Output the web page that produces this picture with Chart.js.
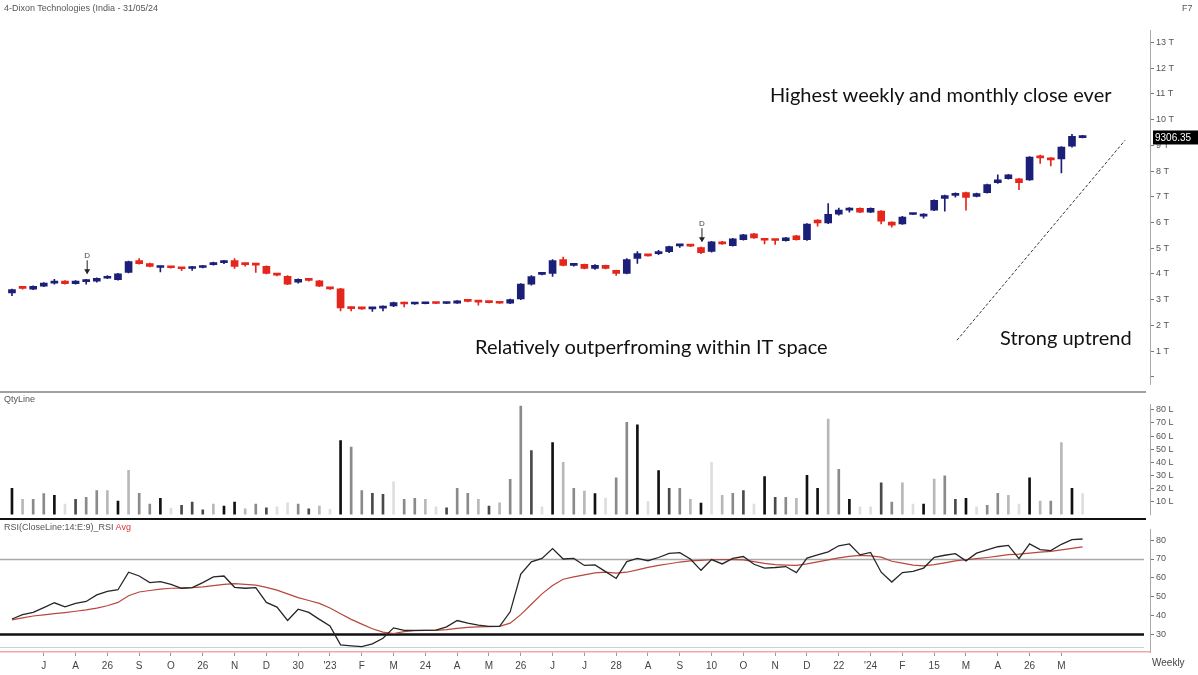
<!DOCTYPE html>
<html>
<head>
    <title>Dixon Technologies - Weekly</title>
    <style>
        body {
            margin: 0;
            background: #fff;
            font-family: "Liberation Sans", Arial, sans-serif;
        }

        #wrap {
            position: relative;
            width: 1198px;
            height: 675px;
            overflow: hidden;
        }

        .pane {
            position: absolute;
            left: 0;
        }

        .note {
            position: absolute;
            font-family: Lato, "Open Sans", sans-serif;
            font-size: 20px;
            color: #111;
            white-space: nowrap;
        }

        .tag {
            position: absolute;
            font-size: 9px;
            color: #555;
            white-space: nowrap;
        }

        .rule {
            position: absolute;
            left: 0;
            width: 1146px;
        }
    </style>
</head>
<body>
<div id="wrap">
    <canvas id="price" class="pane" style="top:0" width="1198" height="392"></canvas>
    <canvas id="vol" class="pane" style="top:392px" width="1198" height="130"></canvas>
    <canvas id="rsi" class="pane" style="top:522px" width="1198" height="153"></canvas>

    <div class="rule" style="top:391px;height:2px;background:#a0a0a0"></div>
    <div class="rule" style="top:518px;height:2px;background:#111"></div>

    <div class="tag" style="left:4px;top:3px">4-Dixon Technologies (India - 31/05/24</div>
    <div class="tag" style="left:1182px;top:3px">F7</div>
    <div class="tag" style="left:4px;top:394px">QtyLine</div>
    <div class="tag" style="left:4px;top:522px">RSI(CloseLine:14:E:9)_RSI <span style="color:#d33">Avg</span></div>
    <div class="tag" style="left:1152px;top:657px;font-size:10px;color:#444">Weekly</div>

    <div class="note" style="left:770px;top:82px">Highest weekly and monthly close ever</div>
    <div class="note" style="left:475px;top:334px">Relatively outperfroming within IT space</div>
    <div class="note" style="left:1000px;top:325px">Strong uptrend</div>
</div>

<script src="https://cdn.jsdelivr.net/npm/chart.js"></script>
<script>
    // weekly candles, Jun 2022 - May 2024
    var open = [3260, 3450, 3410, 3520, 3640, 3720, 3620, 3700, 3720, 3830,
        3780, 4060, 4520, 4400, 4250, 4270, 4230, 4210, 4250, 4360,
        4440, 4520, 4370, 4370, 4290, 3990, 3910, 3680, 3790, 3730,
        3460, 3420, 2680, 2680, 2640, 2670, 2750, 2880, 2830, 2840,
        2880, 2850, 2860, 2950, 2930, 2900, 2890, 2860, 3030, 3600,
        3980, 4020, 4560, 4330, 4370, 4210, 4330, 4140, 4020, 4600,
        4720, 4790, 4860, 5090, 5110, 5020, 4870, 5250, 5100, 5330,
        5560, 5340, 5330, 5290, 5480, 5330, 6090, 5980, 6320, 6480,
        6550, 6400, 6440, 6020, 5940, 6310, 6250, 6480, 6940, 7050,
        7160, 7010, 7160, 7550, 7700, 7700, 7660, 8580, 8510, 8470,
        8970, 9300];
    var high = [3410, 3480, 3540, 3660, 3790, 3740, 3740, 3790, 3850, 3930,
        4020, 4500, 4600, 4420, 4300, 4290, 4240, 4290, 4320, 4460,
        4530, 4600, 4380, 4380, 4310, 4000, 3930, 3810, 3800, 3750,
        3470, 3440, 2720, 2700, 2700, 2760, 2900, 2900, 2860, 2890,
        2890, 2870, 2960, 2970, 2950, 2910, 2900, 3020, 3620, 3930,
        4040, 4560, 4650, 4400, 4380, 4360, 4340, 4150, 4600, 4870,
        4730, 4920, 5080, 5150, 5120, 5040, 5270, 5270, 5380, 5540,
        5580, 5350, 5340, 5420, 5500, 5960, 6110, 6740, 6560, 6580,
        6570, 6570, 6460, 6030, 6240, 6330, 6350, 6880, 7070, 7150,
        7180, 7140, 7490, 7850, 7870, 7720, 8560, 8620, 8520, 8950,
        9430, 9390];
    var low = [3150, 3410, 3390, 3500, 3600, 3600, 3600, 3600, 3680, 3810,
        3760, 4040, 4380, 4270, 4080, 4220, 4130, 4140, 4230, 4340,
        4400, 4210, 4300, 4060, 4000, 3920, 3580, 3640, 3720, 3500,
        3400, 2560, 2560, 2620, 2540, 2560, 2730, 2720, 2810, 2830,
        2840, 2840, 2850, 2910, 2780, 2870, 2850, 2840, 3000, 3560,
        3960, 3900, 4310, 4300, 4190, 4170, 4190, 3940, 4000, 4410,
        4690, 4750, 4830, 5030, 5060, 4790, 4850, 5150, 5080, 5310,
        5380, 5170, 5150, 5270, 5310, 5300, 5860, 5950, 6280, 6400,
        6380, 6380, 5940, 5820, 5920, 6300, 6170, 6460, 6440, 6980,
        6480, 6990, 7140, 7520, 7680, 7280, 7640, 8300, 8200, 7930,
        8930, 9290];
    var close = [3390, 3440, 3520, 3640, 3720, 3620, 3720, 3720, 3830, 3900,
        4000, 4480, 4400, 4290, 4290, 4240, 4200, 4250, 4290, 4440,
        4510, 4290, 4360, 4340, 4020, 3950, 3600, 3790, 3750, 3520,
        3420, 2680, 2650, 2640, 2660, 2750, 2880, 2830, 2840, 2880,
        2850, 2860, 2950, 2930, 2900, 2880, 2860, 3000, 3600, 3900,
        4020, 4520, 4330, 4370, 4210, 4330, 4210, 4020, 4560, 4790,
        4700, 4860, 5060, 5100, 5080, 4830, 5250, 5170, 5360, 5520,
        5400, 5310, 5300, 5400, 5330, 5940, 5980, 6320, 6480, 6550,
        6400, 6550, 6050, 5900, 6210, 6320, 6320, 6860, 7050, 7130,
        6970, 7120, 7470, 7660, 7850, 7550, 8540, 8510, 8430, 8930,
        9350, 9306.35];

    // traded quantity in lakh shares
    var qty = [20, 11.7, 11.7, 16, 14.7, 8, 11.7, 13.2, 18.3, 18.3,
        10.3, 33.8, 16.2, 8, 12.5, 5, 7, 9.5, 3.7, 8,
        6.6, 9.5, 4.4, 8, 5.2, 6, 9, 8, 4.4, 6.6,
        4, 56.6, 51.5, 18.3, 16.2, 15.4, 25, 11.7, 12.5, 11.7,
        6, 5.2, 20, 16.2, 11.7, 6.6, 9, 27, 83, 49,
        6, 55, 40, 20, 18, 16, 12.7, 28, 70.5, 68.6,
        10, 33.6, 20, 20, 11.7, 8.8, 40, 14.7, 16.2, 18.3,
        8, 29, 13.2, 13.2, 12.5, 30, 20, 73, 34.6, 11.7,
        6, 6, 24.3, 9.6, 24.3, 8, 8, 27.2, 29.7, 11.7,
        12.5, 6, 7.1, 16.2, 14.7, 8, 28, 10.3, 10.3, 55,
        20, 16];
    // shade of each qty bar: 0 darkest .. 4 faintest
    var qtyShade = [0, 3, 2, 2, 0, 4, 1, 2, 2, 3,
        0, 3, 2, 2, 0, 4, 1, 1, 1, 3,
        0, 0, 3, 2, 1, 4, 4, 2, 1, 3,
        4, 0, 2, 2, 1, 1, 4, 2, 2, 3,
        4, 1, 2, 2, 3, 1, 3, 2, 2, 1,
        4, 0, 3, 2, 3, 0, 4, 2, 2, 0,
        4, 0, 1, 2, 3, 0, 4, 3, 2, 1,
        4, 0, 1, 2, 3, 0, 0, 3, 2, 0,
        4, 4, 1, 2, 3, 4, 0, 3, 2, 1,
        0, 4, 2, 2, 3, 4, 0, 3, 2, 3,
        0, 4];

    var rsi = [38.2, 40.5, 41.7, 44.2, 46.8, 44.6, 46.5, 47.5, 51, 52.8,
        53.7, 63, 61, 57.5, 58, 56.5, 54.5, 54.8, 57.5, 60.5,
        61, 55, 54.5, 54.8, 47, 44.5, 37.4, 43.4, 41.7, 38,
        34.5, 24.5, 24, 23.6, 25, 28, 33.5, 32.2, 32.2, 32.2,
        32.3, 34, 37.4, 36, 35, 34.3, 34.3, 42, 62, 68.5,
        70.3, 75.5, 70, 70.3, 66.6, 66.9, 63.3, 59.7, 68.6, 70.3,
        69.1, 70.8, 73, 73.4, 70, 64, 69.7, 67.4, 70.3, 71.3,
        67.2, 65.2, 65.5, 66, 62.8, 70.5, 72.2, 73.8, 77, 78,
        72.2, 73.5, 63, 57.8, 62.8, 63.5, 65.2, 70.9, 72, 72.8,
        69, 73.1, 74.8, 76.5, 77.2, 70.2, 78, 75, 74.5, 77.8,
        80.3, 80.6];
    var rsiAvg = [37.7, 38.8, 39.8, 40.4, 41, 41.6, 42.3, 43, 44, 45.2,
        47, 50.5, 52.5, 53.3, 54, 54.5, 54.6, 54.8, 55.2, 55.9,
        56.6, 57, 56.6, 56.2, 55, 53.5, 51.5, 49.5, 48, 46.5,
        44, 41, 38, 35.5, 33, 31.2, 30.5, 31.5, 32, 32.2,
        32.2, 32.6, 33.2, 33.8, 34, 34.2, 34.3, 36, 40.5, 46,
        51.5, 56, 59.3, 60.5, 61.6, 62.6, 63, 62.5, 63, 64.2,
        65.6, 66.6, 67.5, 68.4, 69, 69.3, 69.6, 69.7, 69.7, 69.5,
        68.6, 67.7, 67, 66.8, 66.6, 67.4, 68.5, 69.5, 70.6, 71.4,
        71.9, 71.7, 71, 68.8, 67.8, 66.8, 66.4, 67, 68, 69,
        69.6, 70.2, 70.8, 71.5, 72.3, 72.6, 73.1, 73.6, 74.1, 74.8,
        75.6, 76.4];

    // date labels under the RSI pane and the bar each one sits on
    var dateLabels = ['J', 'A', '26', 'S', 'O', '26', 'N', 'D', '30', "'23", 'F',
        'M', '24', 'A', 'M', '26', 'J', 'J', '28', 'A', 'S', '10',
        'O', 'N', 'D', '22', "'24", 'F', '15', 'M', 'A', '26', 'M'];
    var dateBars = [3, 6, 9, 12, 15, 18, 21, 24, 27, 30, 33,
        36, 39, 42, 45, 48, 51, 54, 57, 60, 63, 66,
        69, 72, 75, 78, 81, 84, 87, 90, 93, 96, 99];

    var priceTicks = [0, 1000, 2000, 3000, 4000, 5000, 6000, 7000, 8000, 9000, 10000, 11000, 12000, 13000];
    var qtyTicks = [10, 20, 30, 40, 50, 60, 70, 80];
    var rsiTicks = [30, 40, 50, 60, 70, 80];

    // "D" markers and the trend line (bar index, price)
    var markBars = [7, 65];
    var trendFrom = [89.15, 1420];
    var trendTo = [105, 9195];

    var UP = '#1b1f78';
    var DOWN = '#e5261d';
    var SHADES = ['#111111', '#4a4a4a', '#8a8a8a', '#b8b8b8', '#dedede'];
    var XMIN = -1.13, XMAX = 107.36;

    var bars = close.map(function (_, i) { return i; });
    var candleCol = bars.map(function (i) { return close[i] >= open[i] ? UP : DOWN; });
    var tickFont = { family: 'Liberation Sans', size: 9 };

    function fixWidth(scale) { scale.width = 48; }
    function setTicks(list) {
        return function (scale) { scale.ticks = list.map(function (v) { return { value: v }; }); };
    }
    function rightAxis(min, max, list, fmt) {
        return {
            position: 'right', min: min, max: max,
            afterBuildTicks: setTicks(list),
            afterFit: fixWidth,
            ticks: { font: tickFont, color: '#555', padding: 2, callback: fmt },
            grid: { drawOnChartArea: false, tickLength: 4, color: '#777' },
            border: { color: '#aaa' }
        };
    }
    var hiddenX = { type: 'linear', min: XMIN, max: XMAX, offset: false, display: false };
    var base = {
        animation: false, responsive: false,
        plugins: { legend: { display: false }, tooltip: { enabled: false } }
    };

    // price pane: wick + body floating bars, plus marks and last price tag
    var priceExtras = {
        id: 'priceExtras',
        afterDatasetsDraw: function (chart) {
            var c = chart.ctx, xs = chart.scales.x, ys = chart.scales.y;
            c.save();
            // trend line
            c.strokeStyle = '#333';
            c.lineWidth = 1;
            c.setLineDash([3, 2]);
            c.beginPath();
            c.moveTo(xs.getPixelForValue(trendFrom[0]), ys.getPixelForValue(trendFrom[1]));
            c.lineTo(xs.getPixelForValue(trendTo[0]), ys.getPixelForValue(trendTo[1]));
            c.stroke();
            c.setLineDash([]);
            // arrows with D
            markBars.forEach(function (i) {
                var x = xs.getPixelForValue(i) + 1;
                var tip = ys.getPixelForValue(high[i]) - 6;
                c.strokeStyle = '#222';
                c.fillStyle = '#222';
                c.beginPath();
                c.moveTo(x, tip - 13);
                c.lineTo(x, tip);
                c.stroke();
                c.beginPath();
                c.moveTo(x - 3, tip - 4);
                c.lineTo(x + 3, tip - 4);
                c.lineTo(x, tip + 1);
                c.closePath();
                c.fill();
                c.font = '8px Liberation Sans';
                c.textAlign = 'center';
                c.fillStyle = '#444';
                c.fillText('D', x, tip - 15);
            });
            // last price tag
            var last = close[close.length - 1];
            var y = ys.getPixelForValue(last);
            c.fillStyle = '#000';
            c.fillRect(1153, y - 7, 45, 14);
            c.fillStyle = '#fff';
            c.font = '10px Liberation Sans';
            c.textAlign = 'left';
            c.textBaseline = 'middle';
            c.fillText(last.toFixed(2), 1155, y + 0.5);
            c.restore();
        }
    };

    new Chart(document.getElementById('price'), {
        type: 'bar',
        data: {
            datasets: [{
                data: bars.map(function (i) { return { x: i, y: [low[i], high[i]] }; }),
                backgroundColor: candleCol,
                barThickness: 1,
                grouped: false,
                order: 2
            }, {
                data: bars.map(function (i) {
                    return { x: i, y: [Math.min(open[i], close[i]), Math.max(open[i], close[i])] };
                }),
                backgroundColor: candleCol,
                barThickness: 7,
                minBarLength: 2,
                grouped: false,
                order: 1
            }]
        },
        options: Object.assign({}, base, {
            layout: { padding: { top: 30, bottom: 2 } },
            scales: {
                x: hiddenX,
                y: rightAxis(-306, 13487, priceTicks, function (v) { return v === 0 ? '' : (v / 1000) + ' T'; })
            }
        }),
        plugins: [priceExtras]
    });

    new Chart(document.getElementById('vol'), {
        type: 'bar',
        data: {
            datasets: [{
                data: bars.map(function (i) { return { x: i, y: qty[i] }; }),
                backgroundColor: qtyShade.map(function (s) { return SHADES[s]; }),
                barThickness: 2
            }]
        },
        options: Object.assign({}, base, {
            layout: { padding: { top: 12, bottom: 3 } },
            scales: {
                x: hiddenX,
                y: rightAxis(0, 84.5, qtyTicks, function (v) { return v + ' L'; })
            }
        })
    });

    // RSI pane: level lines at 70 and 30
    var rsiLevels = {
        id: 'rsiLevels',
        beforeDatasetsDraw: function (chart) {
            var c = chart.ctx, a = chart.chartArea, ys = chart.scales.y;
            c.save();
            [[70, '#a8a8a8', 1.5], [30, '#111', 2.5]].forEach(function (l) {
                var y = Math.round(ys.getPixelForValue(l[0])) + 0.5;
                c.strokeStyle = l[1];
                c.lineWidth = l[2];
                c.beginPath();
                c.moveTo(a.left, y);
                c.lineTo(a.right - 6, y);
                c.stroke();
            });
            c.strokeStyle = '#c9d2dc';
            c.lineWidth = 1;
            c.beginPath();
            c.moveTo(a.left, a.bottom - 4.5);
            c.lineTo(a.right - 6, a.bottom - 4.5);
            c.stroke();
            c.restore();
        }
    };

    new Chart(document.getElementById('rsi'), {
        type: 'line',
        data: {
            datasets: [{
                data: bars.map(function (i) { return { x: i, y: rsi[i] }; }),
                borderColor: '#262626',
                borderWidth: 1.3,
                pointRadius: 0
            }, {
                data: bars.map(function (i) { return { x: i, y: rsiAvg[i] }; }),
                borderColor: '#b8473c',
                borderWidth: 1.2,
                pointRadius: 0
            }]
        },
        options: Object.assign({}, base, {
            layout: { padding: { top: 4 } },
            scales: {
                x: {
                    type: 'linear', min: XMIN, max: XMAX,
                    afterBuildTicks: setTicks(dateBars),
                    afterFit: function (scale) { scale.height = 23; },
                    ticks: {
                        autoSkip: false, maxRotation: 0, padding: 4,
                        font: { family: 'Liberation Sans', size: 10 }, color: '#444',
                        callback: function (v) { return dateLabels[dateBars.indexOf(v)]; }
                    },
                    grid: { drawOnChartArea: false, tickLength: 4, color: '#999' },
                    border: { color: '#f2a7a2', width: 1.5 }
                },
                y: rightAxis(20.7, 85.7, rsiTicks, function (v) { return v; })
            }
        }),
        plugins: [rsiLevels]
    });
</script>
</body>
</html>
